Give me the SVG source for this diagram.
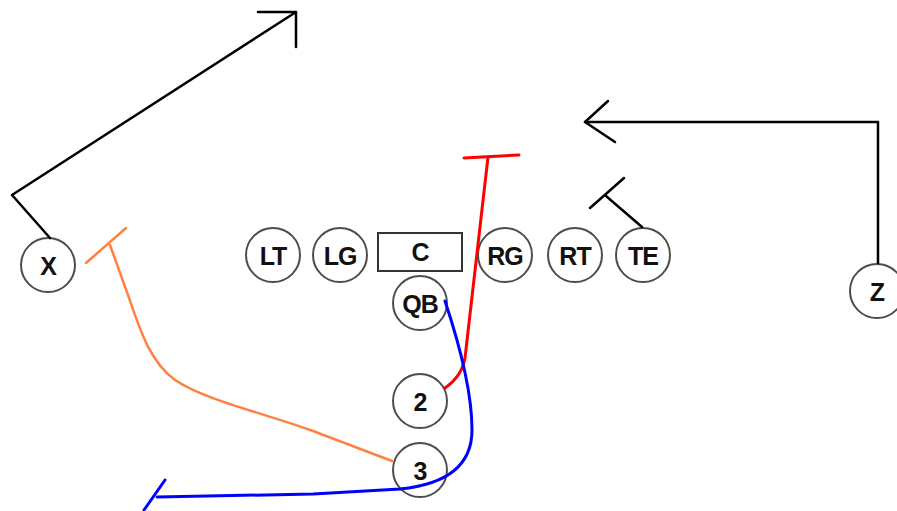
<svg xmlns="http://www.w3.org/2000/svg" width="897" height="511" viewBox="0 0 897 511">
  <style>
    .player circle { fill: #ffffff; stroke: #4d4d4d; stroke-width: 2; }
    .player rect { fill: #ffffff; stroke: #333333; stroke-width: 2; }
    .player text { font-family: "Liberation Sans", Arial, sans-serif; font-weight: bold; font-size: 25px; fill: #111111; text-anchor: middle; dominant-baseline: central; letter-spacing: -1px; }
    .route { fill: none; stroke-linecap: round; stroke-linejoin: round; }
    .black { stroke: #000000; stroke-width: 2.5; }
    .red { stroke: #ff0000; stroke-width: 3; }
    .blue { stroke: #0000ff; stroke-width: 3; }
    .orange { stroke: #ff8040; stroke-width: 2.5; }
  </style>
  <rect width="897" height="511" fill="#ffffff"/>

  <g id="X" class="player"><circle cx="48" cy="265" r="27"/><text x="48" y="266">X</text></g>
  <g id="LT" class="player"><circle cx="273" cy="255" r="27"/><text x="273" y="256">LT</text></g>
  <g id="LG" class="player"><circle cx="340" cy="255" r="27"/><text x="340" y="256">LG</text></g>
  <g id="C" class="player"><rect x="378" y="233" width="84" height="38"/><text x="420" y="252">C</text></g>
  <g id="RG" class="player"><circle cx="505" cy="255" r="27"/><text x="505" y="256">RG</text></g>
  <g id="RT" class="player"><circle cx="575" cy="255" r="27"/><text x="575" y="256">RT</text></g>
  <g id="TE" class="player"><circle cx="643" cy="255" r="27"/><text x="643" y="256">TE</text></g>
  <g id="Z" class="player"><circle cx="877" cy="291" r="27"/><text x="877" y="292">Z</text></g>
  <g id="QB" class="player"><circle cx="420" cy="303" r="27"/><text x="420" y="304">QB</text></g>
  <g id="RB2" class="player"><circle cx="420" cy="401" r="27"/><text x="420" y="402">2</text></g>
  <g id="RB3" class="player"><circle cx="420" cy="470" r="27"/><text x="420" y="471">3</text></g>

  <!-- routes, drawn over the players -->
  <g id="connectors">
    <!-- X: stem then deep post with arrowhead -->
    <path class="route black" d="M 50 238 L 12 195 L 296 12"/>
    <path class="route black" d="M 258 12 L 296 12 L 296 47"/>
    <!-- Z: vertical then across the field -->
    <path class="route black" d="M 878 263 L 878 122 L 585 122"/>
    <path class="route black" d="M 608 101 L 585 122 L 615 142"/>
    <!-- TE: short block -->
    <path class="route black" d="M 642 227 L 606 196"/>
    <path class="route black" d="M 590 208 L 624 178"/>
    <!-- 2: red route up the middle -->
    <path class="route red" d="M 445 388 Q 462 376 465 358 L 488 157"/>
    <path class="route red" d="M 464 158 L 519 155"/>
    <!-- 3: orange route to the left -->
    <path class="route orange" d="M 392 461 L 313 431 C 260 412 205 400 175 380 C 150 362 140 330 128 295 L 110 245"/>
    <path class="route orange" d="M 86 263 L 126 228"/>
    <!-- QB: blue rollout -->
    <path class="route blue" d="M 445 301 C 458 340 472 390 472 430 C 472 470 440 485 400 489 L 313 494 L 157 497"/>
    <path class="route blue" d="M 165 480 L 144 510"/>
  </g>
</svg>
